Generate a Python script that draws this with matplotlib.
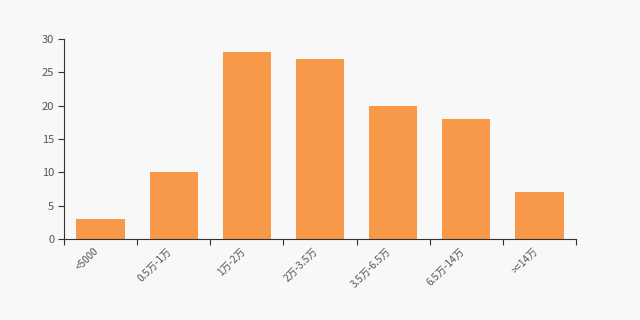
import numpy as np
import matplotlib.pyplot as plt
from matplotlib.transforms import ScaledTranslation

plt.rcParams['font.family'] = ['Noto Sans CJK SC', 'DejaVu Sans']

categories = ["<5000", "0.5万-1万", "1万-2万", "2万-3.5万", "3.5万-6.5万", "6.5万-14万", ">=14万"]
values = [3, 10, 28, 27, 20, 18, 7]
yticks = [0, 5, 10, 15, 20, 25, 30]

bg = "#f8f8f8"
bar_color = "#f8994a"
axis_color = "#333333"
text_color = "#555555"

fig = plt.figure(figsize=(6.4, 3.2), dpi=100, facecolor=bg)
ax = fig.add_axes([0.1, 0.253, 0.8, 0.625], facecolor=bg)

x = np.arange(len(categories))
ax.bar(x, values, width=0.66, color=bar_color, zorder=2)

ax.set_xlim(-0.5, len(categories) - 0.5)
ax.set_ylim(0, 30)
ax.set_yticks(yticks)

# ticks on category boundaries, labels at centres
ax.set_xticks(np.arange(len(categories) + 1) - 0.5)
ax.set_xticklabels([])
ax.set_xticks(x, minor=True)
ax.set_xticklabels(categories, minor=True, rotation=45, ha="right", va="top",
                   rotation_mode="anchor", fontsize=7.2, color=text_color)
ax.tick_params(axis="x", which="minor", length=0, pad=5)
ax.tick_params(axis="x", which="major", length=4, color=axis_color, width=0.8)
ax.tick_params(axis="y", length=4, color=axis_color, width=0.8,
               labelsize=8, labelcolor=text_color, pad=3)

shift = ScaledTranslation(-5 / 72, 0, fig.dpi_scale_trans)
for lbl in ax.get_xticklabels(minor=True):
    lbl.set_transform(lbl.get_transform() + shift)

for side in ["top", "right"]:
    ax.spines[side].set_visible(False)
for side in ["left", "bottom"]:
    ax.spines[side].set_color(axis_color)
    ax.spines[side].set_linewidth(0.8)

fig.savefig("out.png", dpi=100, facecolor=bg)
